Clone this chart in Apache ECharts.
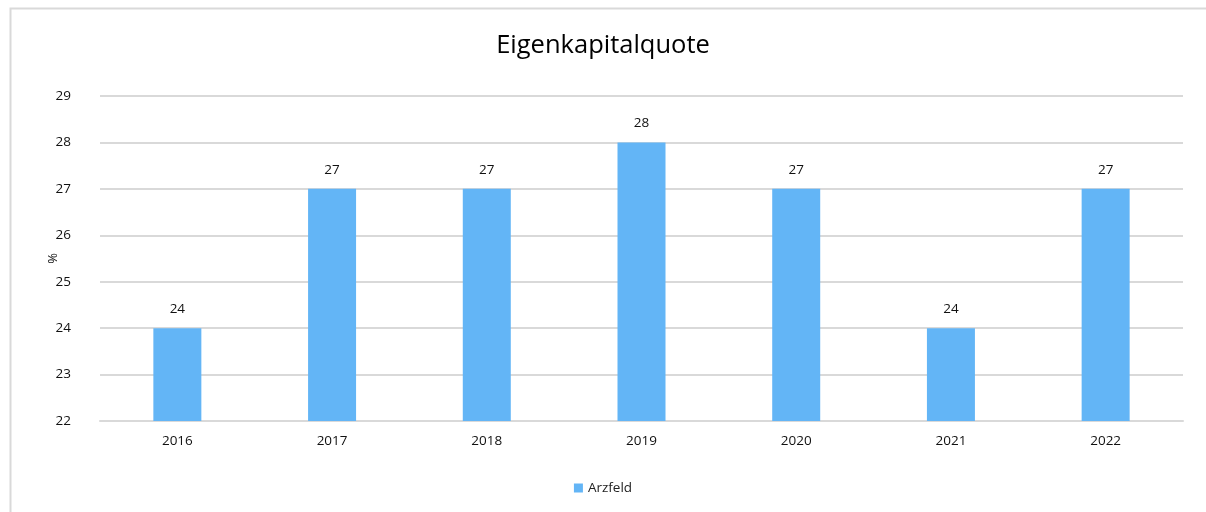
<!DOCTYPE html>
<html>
<head>
<meta charset="utf-8">
<script src="https://cdn.jsdelivr.net/npm/echarts@6/dist/echarts.min.js"></script>
<style>html,body{margin:0;padding:0;background:#fff}#c{width:1206px;height:512px}</style>
</head>
<body>
<div id="c"></div>
<script>
const categories = ['2016','2017','2018','2019','2020','2021','2022'];
const values = [24, 27, 27, 28, 27, 24, 27];
const seriesName = 'Arzfeld';
const chartTitle = 'Eigenkapitalquote';
const yAxisName = '%';

const chart = echarts.init(document.getElementById('c'), null, {renderer: 'canvas'});
const font = '"Open Sans", "Noto Sans", sans-serif';
chart.setOption({
  animation: false,
  textStyle: {fontFamily: font},
  graphic: [{
    type: 'rect', left: 8, top: 6, silent: true,
    shape: {width: 1220, height: 540},
    style: {fill: 'none', stroke: '#d9d9d9', lineWidth: 2}
  }],
  title: {
    text: chartTitle, left: 'center', top: 28,
    textStyle: {fontFamily: font, fontSize: 25.5, fontWeight: 'normal', color: '#000'}
  },
  legend: {
    data: [seriesName], bottom: 12, left: 'center',
    itemWidth: 9, itemHeight: 9, icon: 'rect', itemGap: 6,
    textStyle: {fontFamily: font, fontSize: 13.5, color: '#222'}
  },
  grid: {left: 100, right: 23, top: 96, bottom: 91, containLabel: false},
  xAxis: {
    type: 'category', data: categories,
    axisLine: {show: true, lineStyle: {color: '#d9d9d9', width: 2}},
    axisTick: {show: false},
    axisLabel: {fontFamily: font, fontSize: 13.5, color: '#111', margin: 13}
  },
  yAxis: {
    type: 'value', min: 22, max: 29, interval: 1,
    name: yAxisName, nameLocation: 'middle', nameGap: 40, nameRotate: 90,
    nameMoveOverlap: false,
    nameTextStyle: {fontFamily: font, fontSize: 13, color: '#111'},
    axisLine: {show: false}, axisTick: {show: false},
    axisLabel: {fontFamily: font, fontSize: 13.5, color: '#111', margin: 29},
    splitLine: {lineStyle: {color: '#d9d9d9', width: 2}}
  },
  series: [{
    name: seriesName, type: 'bar', data: values,
    barWidth: 48,
    itemStyle: {color: '#63B5F6'},
    label: {show: true, position: 'top', distance: 12, fontFamily: font, fontSize: 13.5, color: '#111'}
  }]
});
</script>
</body>
</html>
